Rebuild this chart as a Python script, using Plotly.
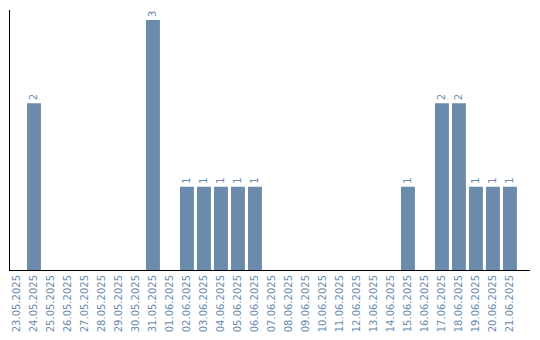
import plotly.graph_objects as go

dates = ["23.05.2025","24.05.2025","25.05.2025","26.05.2025","27.05.2025","28.05.2025",
         "29.05.2025","30.05.2025","31.05.2025","01.06.2025","02.06.2025","03.06.2025",
         "04.06.2025","05.06.2025","06.06.2025","07.06.2025","08.06.2025","09.06.2025",
         "10.06.2025","11.06.2025","12.06.2025","13.06.2025","14.06.2025","15.06.2025",
         "16.06.2025","17.06.2025","18.06.2025","19.06.2025","20.06.2025","21.06.2025"]
counts = [0,2,0,0,0,0,0,0,3,0,1,1,1,1,1,0,0,0,0,0,0,0,0,1,0,2,2,1,1,1]

color = "#6a8bab"
labels = [str(v) if v > 0 else "" for v in counts]

fig = go.Figure(go.Bar(
    x=dates, y=counts, marker_color=color, marker_line_width=0,
    text=labels, textposition="outside", textangle=-90,
    textfont=dict(size=10, color=color, family="DejaVu Sans"),
    cliponaxis=False,
))
fig.update_layout(
    width=540, height=340,
    margin=dict(l=10, r=10, t=10, b=70),
    paper_bgcolor="white", plot_bgcolor="white",
    bargap=0.18, showlegend=False,
    xaxis=dict(type="category", range=[-0.41, 30.18], tickangle=-90, showline=True,
               linecolor="black", linewidth=1, automargin=False,
               showgrid=False, ticks="", tickfont=dict(size=10, color=color, family="DejaVu Sans")),
    yaxis=dict(range=[0, 3.12], showline=True, linecolor="black", linewidth=1, automargin=False,
               showgrid=False, showticklabels=False, ticks="", zeroline=False),
)
fig.write_html("out.html")
